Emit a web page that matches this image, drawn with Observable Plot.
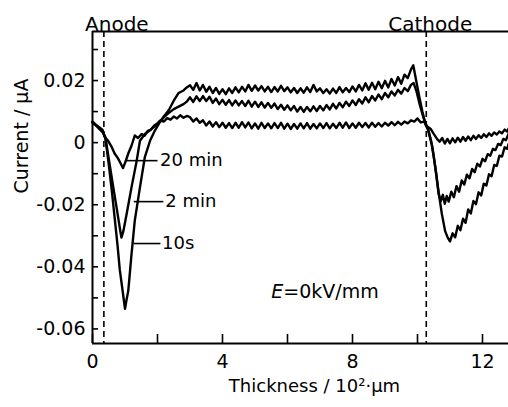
<!DOCTYPE html>
<html><head><meta charset="utf-8">
<script src="https://cdn.jsdelivr.net/npm/d3@7"></script>
<script src="https://cdn.jsdelivr.net/npm/@observablehq/plot@0.6"></script>
<style>html,body{margin:0;padding:0;background:#fff;}</style>
</head><body><div id="chart"></div>
<script>
// ---- data ----
const seriesNames = ["10s", "2min", "20min"];

const plateauX = [3.0,3.1,3.2,3.3,3.4,3.5,3.6,3.7,3.8,3.9,4.0,4.1,4.2,4.3,4.4,4.5,4.6,4.7,4.8,4.9,
  5.0,5.1,5.2,5.3,5.4,5.5,5.6,5.7,5.8,5.9,6.0,6.1,6.2,6.3,6.4,6.5,6.6,6.7,6.8,6.9,
  7.0,7.1,7.2,7.3,7.4,7.5,7.6,7.7,7.8,7.9,8.0,8.1,8.2,8.3,8.4,8.5,8.6,8.7,8.8,8.9,
  9.0,9.1,9.2,9.3,9.4,9.5,9.6,9.7,9.8];

// 10 s
const dip10sX = [0,0.1,0.2,0.3,0.4,0.5,0.6,0.69,0.77,0.84,0.93,1.0,1.05,1.1,1.2,1.3,1.46,1.61,1.77,1.92,2.05,2.2,2.35,2.5,2.65,2.8,2.9];
const dip10sY = [0.0068,0.0058,0.005,0.0042,0.0012,-0.007,-0.016,-0.025,-0.033,-0.041,-0.048,-0.0535,-0.0505,-0.0478,-0.036,-0.0252,-0.0144,-0.0047,0.0006,0.0039,0.0062,0.0085,0.0105,0.0135,0.016,0.0168,0.0178];
const plateau10sY = [0.0185,0.017,0.0192,0.0168,0.0186,0.0164,0.018,0.016,0.0176,0.0157,
  0.0172,0.0156,0.0175,0.016,0.0178,0.0162,0.018,0.0165,0.0186,0.0167,
  0.0184,0.0168,0.0182,0.0165,0.018,0.0163,0.0179,0.0165,0.0183,0.0166,
  0.0178,0.0162,0.0176,0.016,0.0175,0.0161,0.0178,0.0163,0.0186,0.0165,
  0.0175,0.016,0.0172,0.0158,0.0174,0.016,0.0179,0.0162,0.0176,0.0163,
  0.0181,0.0165,0.0186,0.0168,0.0191,0.017,0.0193,0.0172,0.0196,0.0175,
  0.0199,0.0178,0.0205,0.0184,0.0211,0.019,0.0219,0.0208,0.0236];
const tail10sX = [9.87,9.95,10.05,10.15,10.25,10.32,10.45,10.55,10.65,10.75,10.85,10.93,11.0,11.08,11.16,11.24,11.32,11.4,11.48,11.56,11.64,11.72,11.8,11.88,11.96,12.04,12.12,12.2,12.28,12.36,12.44,12.52,12.6,12.68,12.76,12.8];
const tail10sY = [0.0249,0.0205,0.015,0.01,0.0058,0.0042,-0.001,-0.008,-0.016,-0.023,-0.0285,-0.0306,-0.0318,-0.0292,-0.0305,-0.0268,-0.0282,-0.0245,-0.0258,-0.0215,-0.0228,-0.0188,-0.0198,-0.016,-0.017,-0.0132,-0.0138,-0.0102,-0.0108,-0.0072,-0.0075,-0.0042,-0.0045,-0.0015,-0.002,-0.0005];

// 2 min
const dip2mX = [0,0.1,0.2,0.3,0.4,0.5,0.64,0.75,0.84,0.89,0.95,1.05,1.2,1.36,1.46,1.61,1.75,1.9,2.05,2.2,2.35,2.5,2.65,2.8,2.9];
const dip2mY = [0.0066,0.0057,0.0049,0.0041,0.0014,-0.0052,-0.0144,-0.0215,-0.0275,-0.0306,-0.0285,-0.023,-0.0144,-0.0058,0.0006,0.0028,0.0038,0.0052,0.0066,0.0082,0.0096,0.0108,0.0116,0.0124,0.0132];
const plateau2mY = [0.0146,0.0131,0.0149,0.0134,0.015,0.0134,0.0148,0.0128,0.0142,0.0124,
  0.0138,0.0122,0.0137,0.012,0.0136,0.012,0.0134,0.0118,0.0135,0.0116,
  0.0132,0.0115,0.013,0.0113,0.0128,0.0112,0.0126,0.0108,0.0122,0.0106,
  0.012,0.0104,0.0118,0.01,0.0115,0.0099,0.0115,0.0101,0.0117,0.0102,
  0.0118,0.0104,0.0121,0.0107,0.0125,0.011,0.0128,0.0114,0.0132,0.0118,
  0.0136,0.0121,0.014,0.0126,0.0146,0.013,0.015,0.0136,0.0155,0.014,
  0.016,0.0146,0.0165,0.0152,0.017,0.0158,0.0176,0.0166,0.0186];
const tail2mX = [9.88,9.97,10.07,10.17,10.27,10.33,10.42,10.5,10.58,10.65,10.72,10.78,10.84,10.9,10.96,11.04,11.12,11.2,11.28,11.36,11.44,11.52,11.6,11.68,11.76,11.84,11.92,12.0,12.08,12.16,12.24,12.32,12.4,12.48,12.56,12.64,12.72,12.8];
const tail2mY = [0.0192,0.0165,0.0122,0.0085,0.0055,0.0043,0.0005,-0.0045,-0.0105,-0.0165,-0.0188,-0.0168,-0.0197,-0.0172,-0.019,-0.0158,-0.0176,-0.014,-0.0158,-0.0122,-0.0135,-0.0103,-0.0115,-0.0085,-0.0095,-0.0068,-0.0077,-0.0052,-0.006,-0.0037,-0.0042,-0.002,-0.0024,-0.0004,-0.0008,0.0012,0.0008,0.0028];

// 20 min
const dip20mX = [0,0.1,0.2,0.3,0.4,0.48,0.58,0.68,0.78,0.87,0.94,1.02,1.1,1.2,1.3,1.4,1.51,1.6,1.7,1.8,1.9,2.0,2.08,2.2,2.3,2.4,2.5,2.6,2.7,2.8,2.9];
const dip20mY = [0.0064,0.0056,0.0045,0.0035,0.0016,0.0006,-0.0012,-0.0035,-0.005,-0.0068,-0.0082,-0.006,-0.0035,-0.001,0.0023,0.0015,0.0028,0.0022,0.0038,0.0042,0.0055,0.0062,0.0071,0.0068,0.0079,0.0074,0.0084,0.0078,0.0088,0.008,0.0086];
const plateau20mY = [0.0082,0.0068,0.0078,0.0064,0.0072,0.0055,0.0068,0.0052,0.0066,0.005,
  0.0064,0.0048,0.0063,0.0047,0.0064,0.0048,0.0066,0.0049,0.0065,0.0046,
  0.0062,0.0045,0.0064,0.0047,0.0062,0.0046,0.0063,0.0047,0.0064,0.0045,
  0.0061,0.0044,0.006,0.0045,0.0062,0.0046,0.0063,0.0045,0.006,0.0046,
  0.0062,0.0047,0.0063,0.0046,0.0061,0.0047,0.0064,0.0048,0.0065,0.0047,
  0.0062,0.0048,0.0064,0.005,0.0063,0.0049,0.0064,0.0051,0.0063,0.0052,
  0.0064,0.0055,0.0066,0.0056,0.0067,0.0058,0.0068,0.0062,0.0072];
const tail20mX = [9.9,10.0,10.1,10.2,10.3,10.4,10.5,10.6,10.68,10.76,10.84,10.92,11.0,11.08,11.16,11.24,11.32,11.4,11.48,11.56,11.64,11.72,11.8,11.88,11.96,12.04,12.12,12.2,12.28,12.36,12.44,12.52,12.6,12.68,12.76,12.8];
const tail20mY = [0.0068,0.0078,0.0065,0.0068,0.0052,0.0045,0.0028,0.0012,0.0003,0.0015,-0.0003,0.0012,-0.0002,0.0014,0.0001,0.0016,0.0003,0.0018,0.0006,0.002,0.0008,0.0022,0.0012,0.0024,0.0015,0.0027,0.0018,0.003,0.0022,0.0033,0.0026,0.0036,0.003,0.0042,0.0036,0.0045];

// electrodes (dashed lines) and labels
const electrodeNames = ["Anode", "Cathode"];
const electrodeX = [0.35, 10.27];

// curve labels with leader lines
const curveLabels = ["20 min", "2 min", "10s"];
const curveLabelX = [2.08, 2.24, 2.14];
const curveLabelY = [-0.0058, -0.019, -0.0325];
const leaderX1 = [1.04, 1.27, 1.26];
const leaderX2 = [2.0, 2.18, 2.09];

// axes
const xDomain = [0, 12.8];
const yDomain = [-0.0647, 0.0358];
const xTicksAll = [0, 2, 4, 6, 8, 10, 12];
const xTickLabels = [0, 4, 8, 12];
const yTicksAll = [-0.06, -0.05, -0.04, -0.03, -0.02, -0.01, 0, 0.01, 0.02, 0.03];
const yTickLabels = [-0.06, -0.04, -0.02, 0, 0.02];

// ---- build table ----
function build(name, xs, ys) { return xs.map((x, i) => ({series: name, x, y: ys[i]})); }
const data = [
  ...build(seriesNames[0], dip10sX.concat(plateauX, tail10sX), dip10sY.concat(plateau10sY, tail10sY)),
  ...build(seriesNames[1], dip2mX.concat(plateauX, tail2mX), dip2mY.concat(plateau2mY, tail2mY)),
  ...build(seriesNames[2], dip20mX.concat(plateauX, tail20mX), dip20mY.concat(plateau20mY, tail20mY))
];
const labels = curveLabels.map((t, i) => ({t, x: curveLabelX[i], y: curveLabelY[i], x1: leaderX1[i], x2: leaderX2[i]}));

const font = "DejaVu Sans";
const chart = Plot.plot({
  width: 508, height: 407,
  marginLeft: 92, marginRight: 0, marginTop: 31, marginBottom: 64,
  x: {domain: xDomain},
  y: {domain: yDomain},
  style: {fontFamily: font, fontSize: "19px", color: "#000", background: "#fff", overflow: "visible"},
  marks: [
    Plot.ruleX(electrodeX, {strokeDasharray: "6,4", strokeWidth: 1.6, stroke: "#000"}),
    Plot.line(data, {x: "x", y: "y", z: "series", stroke: "#000", strokeWidth: 2.4, strokeLinejoin: "round"}),
    Plot.link(labels, {x1: "x1", x2: "x2", y1: "y", y2: "y", stroke: "#000", strokeWidth: 1.6}),
    Plot.text(labels, {x: "x", y: "y", text: "t", textAnchor: "start", fontSize: 18}),
    // frame: left, top, bottom
    Plot.ruleX([xDomain[0]], {stroke: "#000", strokeWidth: 2}),
    Plot.ruleY(yDomain, {stroke: "#000", strokeWidth: 2}),
    // inward ticks
    Plot.axisY(yTicksAll, {tickSize: 6, insetLeft: 6, fill: "none", label: null, strokeWidth: 1.6}),
    Plot.axisX(xTicksAll, {tickSize: 9, insetBottom: 9, fill: "none", label: null, strokeWidth: 1.6}),
    // tick labels
    Plot.axisY(yTickLabels, {tickSize: 0, tickPadding: 7, stroke: "none", label: null, fontSize: 19,
      tickFormat: d => d === 0 ? "0" : d.toFixed(2)}),
    Plot.axisX(xTickLabels, {tickSize: 0, tickPadding: 11, stroke: "none", label: null, fontSize: 19,
      tickFormat: d => String(d)}),
    // axis titles
    Plot.text(["Thickness / 10²·µm"], {frameAnchor: "bottom", dx: 14, dy: 48, fontSize: 18}),
    Plot.text(["Current / µA"], {frameAnchor: "left", rotate: -90, dx: -71, dy: 6, fontSize: 19}),
    // electrode labels
    Plot.text([electrodeNames[0]], {x: [electrodeX[0]], frameAnchor: "top", dx: 13, dy: -15, fontSize: 20}),
    Plot.text([electrodeNames[1]], {x: [electrodeX[1]], frameAnchor: "top", dx: 4, dy: -15, fontSize: 20}),
    // field annotation
    Plot.text(["E"], {x: 5.5, y: -0.048, textAnchor: "start", fontStyle: "italic", fontSize: 19}),
    Plot.text(["=0kV/mm"], {x: 5.5, y: -0.048, dx: 12, textAnchor: "start", fontSize: 19})
  ]
});
document.getElementById("chart").appendChild(chart);
</script>
</body></html>
